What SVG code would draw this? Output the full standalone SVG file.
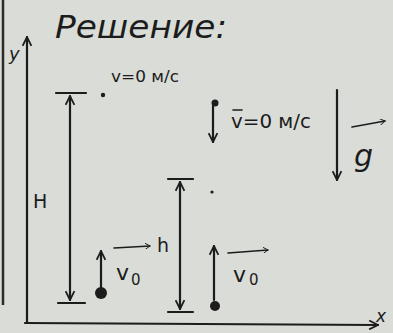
<svg xmlns="http://www.w3.org/2000/svg" width="393" height="333" viewBox="0 0 393 333">
<style>
.ln{stroke:#1c1c1c;stroke-width:2.2;fill:none;stroke-linecap:round}
.thin{stroke:#1c1c1c;stroke-width:1.6;fill:none;stroke-linecap:round}
.t{font-family:"DejaVu Sans",sans-serif;fill:#1c1c1c}
</style>
<defs>
<marker id="ah" viewBox="0 0 10 10" refX="9" refY="5" markerWidth="6" markerHeight="6" orient="auto-start-reverse" markerUnits="userSpaceOnUse">
<path d="M1,0 L9,5 L1,10" fill="none" stroke="#1c1c1c" stroke-width="1.6"/>
</marker>
<marker id="ahb" viewBox="0 0 10 10" refX="9" refY="5" markerWidth="11" markerHeight="11" orient="auto-start-reverse" markerUnits="userSpaceOnUse">
<path d="M1,1 L9,5 L1,9" fill="none" stroke="#1c1c1c" stroke-width="1.6"/>
</marker>
</defs>
<rect width="393" height="333" fill="#d9dcd7"/>
<line x1="3" y1="0" x2="3" y2="305" stroke="#2a2a2a" stroke-width="2.5"/>

<g id="connectors">
<line id="y-axis" class="ln" x1="27" y1="323" x2="27" y2="37" marker-end="url(#ahb)"/>
<line id="x-axis" class="ln" x1="25" y1="323" x2="378" y2="325" marker-end="url(#ahb)"/>
<line id="H-arrow" class="ln" x1="70" y1="96" x2="70" y2="300" marker-start="url(#ahb)" marker-end="url(#ahb)"/>
<line class="ln" x1="56" y1="93" x2="86" y2="93"/>
<line class="ln" x1="58" y1="303" x2="85" y2="303"/>
<line id="h-arrow" class="ln" x1="180" y1="182" x2="180" y2="309" marker-start="url(#ahb)" marker-end="url(#ahb)"/>
<line class="ln" x1="168" y1="179" x2="193" y2="179"/>
<line class="ln" x1="168" y1="312" x2="193" y2="312"/>
<line id="v1-arrow" class="ln" x1="101" y1="288" x2="101" y2="251" marker-end="url(#ahb)"/>
<line id="v2-arrow" class="ln" x1="214" y1="300" x2="214" y2="246" marker-end="url(#ahb)"/>
<line id="v3-arrow" class="ln" x1="213" y1="106" x2="213" y2="142" marker-end="url(#ahb)"/>
<line id="g-arrow" class="ln" x1="337" y1="90" x2="337" y2="180" marker-end="url(#ahb)"/>
</g>

<g id="title"><text class="t" x="55" y="38" font-size="32" font-style="italic" textLength="172" lengthAdjust="spacingAndGlyphs">Решение:</text></g>
<g id="y-label"><text class="t" x="9" y="60" font-size="18" font-style="italic">y</text></g>
<g id="x-label"><text class="t" x="376" y="322" font-size="17" font-style="italic">x</text></g>
<g id="H-label"><text class="t" x="33" y="208" font-size="19">H</text></g>
<g id="h-label"><text class="t" x="157" y="252" font-size="19">h</text></g>

<g id="top-point">
<circle cx="103" cy="95" r="2.2" fill="#1c1c1c"/>
<text class="t" x="111" y="82" font-size="15" textLength="68" lengthAdjust="spacingAndGlyphs">v=0 м/с</text>
</g>

<g id="mid-point"><circle cx="212" cy="192" r="1.6" fill="#1c1c1c"/></g>

<g id="ball1">
<circle cx="101" cy="293" r="6" fill="#1c1c1c"/>
<line class="thin" x1="114" y1="248" x2="150" y2="246" marker-end="url(#ah)"/>
<text class="t" x="116" y="280" font-size="22">v</text>
<text class="t" x="131" y="285" font-size="15">0</text>
</g>

<g id="ball2">
<circle cx="215" cy="306" r="5" fill="#1c1c1c"/>
<line class="thin" x1="228" y1="253" x2="268" y2="250" marker-end="url(#ah)"/>
<text class="t" x="233" y="282" font-size="22">v</text>
<text class="t" x="249" y="285" font-size="15">0</text>
</g>

<g id="ball3">
<circle cx="215" cy="103" r="3.5" fill="#1c1c1c"/>
<line class="thin" x1="233" y1="110" x2="242" y2="110"/>
<text class="t" x="231" y="128" font-size="19" textLength="80" lengthAdjust="spacingAndGlyphs">v=0 м/с</text>
</g>

<g id="g-vector">
<line class="thin" x1="352" y1="127" x2="385" y2="121" marker-end="url(#ah)"/>
<text class="t" x="354" y="166" font-size="30" font-style="italic">g</text>
</g>
</svg>
